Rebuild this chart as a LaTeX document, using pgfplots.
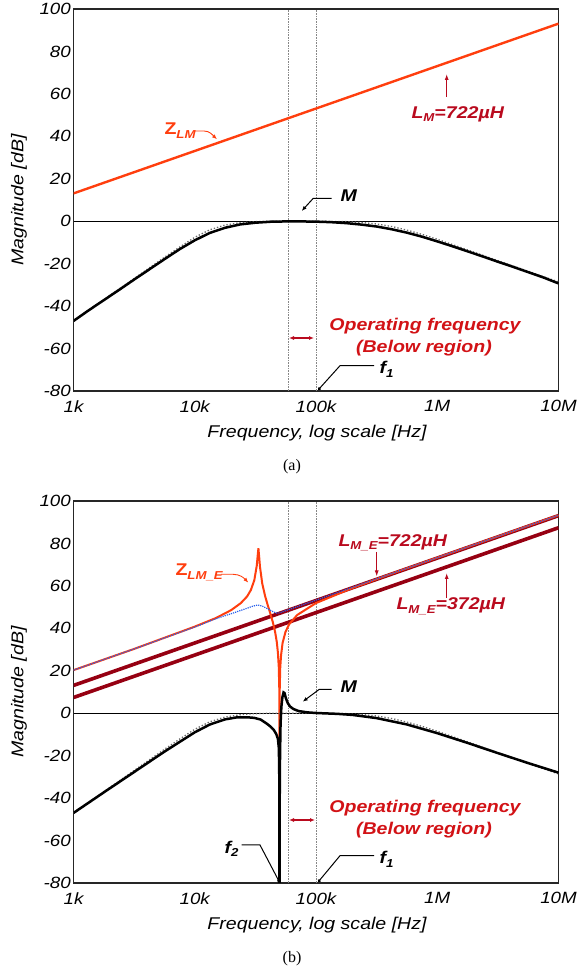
\documentclass[border=0pt]{standalone}
\usepackage{fontspec}
\setmainfont{Liberation Sans}[FakeStretch=1.15]
\newfontfamily\capfont{Liberation Serif}
\usepackage{pgfplots}
\usepackage{pgfplotstable}
\pgfplotsset{compat=1.18}
\usetikzlibrary{arrows.meta}

\definecolor{zorange}{RGB}{255,62,14}
\definecolor{lmred}{RGB}{150,0,18}
\definecolor{lmtext}{RGB}{185,10,30}
\definecolor{optext}{RGB}{210,18,22}
\definecolor{idealgray}{RGB}{105,105,105}
\definecolor{estblue}{RGB}{40,95,235}

\newcommand{\lsub}[1]{\raisebox{-0.35ex}{\fontsize{11.5}{12}\selectfont #1}}
\newcommand{\annfont}{\fontsize{17}{20}\selectfont\bfseries\itshape}
\newcommand{\labfont}{\fontsize{17}{20}\selectfont\itshape}
\newcommand{\tickfont}{\fontsize{16.3}{19}\selectfont\itshape}

\pgfplotsset{
  every axis/.append style={
    scale only axis, width=485pt, height=382pt,
    xmin=1000, xmax=10000000, ymin=-80, ymax=100,
    xtick={1000,10000,100000,1000000,10000000},
    xticklabels={1k,10k,100k,1M,10M},
    ytick={-80,-60,-40,-20,0,20,40,60,80,100},
    yticklabels={-80,-60,-40,-20,0,20,40,60,80,100},
    major tick length=0pt, minor tick length=0pt,
    axis line style={line width=1.3pt, draw=black!85},
    tick label style={font=\tickfont},
    yticklabel style={inner sep=0pt, xshift=-2.5pt},
    xticklabel style={inner sep=0pt, yshift=-9pt},
  },
}
\tikzset{markerline/.style={draw=idealgray!80, line width=0.6pt, densely dotted}}

% ideal gain (dotted reference)
\pgfplotstableread{
f        g
1000     -47.0
1778     -37.0
3162     -27.0
5623     -17.0
7499     -12.2
10000    -7.6
13335    -4.0
17783    -1.8
23714    -0.7
31623    -0.2
42170    0.0
56234    0.0
100000   0.0
177828   -0.2
237137   -0.6
316228   -1.3
421697   -2.5
562341   -4.2
749894   -6.2
1000000  -8.5
1778279  -13.5
3162278  -18.6
5623413  -23.6
10000000 -28.6
}\idealgain

% gain M, case (a)
\pgfplotstableread{
f        g
1000     -47.0
1333     -42.0
1778     -37.2
2371     -32.4
3162     -27.5
4217     -22.7
5623     -17.9
7499     -13.2
10000    -9.0
13335    -5.5
17783    -3.1
23714    -1.5
31623    -0.7
42170    -0.25
56234    -0.1
74989    -0.1
100000   -0.2
133352   -0.45
177828   -0.9
237137   -1.6
316228   -2.5
421697   -3.8
562341   -5.4
749894   -7.3
1000000  -9.5
1333521  -11.8
1778279  -14.2
2371374  -16.6
3162278  -19.1
4216965  -21.5
5623413  -24.0
7498942  -26.5
10000000 -29.3
}\gainA

% gain M, case (b)
\pgfplotstableread{
f        g
1000     -47.0
1778     -37.3
3162     -27.7
5623     -18.1
10000    -9.0
13335    -5.3
17783    -2.9
22000    -2.0
27000    -1.9
31000    -2.2
35000    -3.0
39000    -4.8
42000    -6.2
45000    -8.0
47000    -9.8
48500    -12.0
49300    -16.0
49700    -24.0
49900    -40.0
50000    -85.0
50200    -40.0
50500    -20.0
51000    -5.0
51800    3.0
52800    7.5
54000    9.8
55000    9.5
56500    7.0
58500    4.8
61000    3.2
65000    2.0
72000    1.0
85000    0.4
100000   0.1
150000   -0.3
200000   -0.8
316228   -2.3
562341   -5.3
1000000  -9.4
1778279  -14.0
3162278  -18.8
5623413  -23.5
10000000 -28.0
}\gainB

% magnetizing branch impedance Z_LM_E
\pgfplotstableread{
f        z
1000     20.3
3162     30.3
10000    40.8
15000    44.9
20000    48.6
24000    51.9
27000    55.0
29000    58.0
31000    62.7
32500    69.7
33000    74.0
33500    77.7
34000    73.6
34500    69.1
36000    61.2
38000    55.3
40000    50.9
42000    47.0
44000    43.0
46000    38.3
47500    33.5
48500    28.6
49300    21.8
49800    11.3
50000    -15.0
50200    11.0
50700    21.3
51500    27.3
53000    33.1
56000    38.3
60000    41.9
70000    46.3
100000   51.9
200000   59.0
400000   65.3
1000000  73.3
10000000 93.3
}\zlme

% smoothed estimate of Z_LM_E
\pgfplotstableread{
f        z
1000     20.3
3162     30.3
10000    40.6
14000    43.9
17000    45.6
20000    46.9
25000    48.8
30000    50.4
33000    51.0
36000    50.5
40000    49.2
44000    47.9
47000    47.2
50000    47.3
100000   53.3
1000000  73.3
10000000 93.3
}\zest

\begin{document}
\begin{tikzpicture}
\useasboundingbox (0pt,0pt) rectangle (584pt,974pt);

% ---------- (a) ----------
\begin{semilogxaxis}[at={(73.5pt,583pt)}, anchor=south west]
  \addplot[markerline] coordinates {(59000,-80) (59000,100)};
  \addplot[markerline] coordinates {(100000,-80) (100000,100)};
  \addplot[black, line width=1.3pt] coordinates {(1000,0) (10000000,0)};
  \addplot[zorange, line width=2.4pt] coordinates {(1000,13.1) (10000000,93.1)};
  \addplot[idealgray, line width=1.3pt, dotted] table[x=f,y=g] {\idealgain};
  \addplot[black, line width=2.5pt] table[x=f,y=g] {\gainA};
\end{semilogxaxis}

% ---------- (b) ----------
\begin{semilogxaxis}[at={(73.5pt,91pt)}, anchor=south west]
  \addplot[markerline] coordinates {(59000,-80) (59000,100)};
  \addplot[markerline] coordinates {(100000,-80) (100000,100)};
  \addplot[black, line width=1.3pt] coordinates {(1000,0) (10000000,0)};
  \addplot[lmred, line width=3.6pt] coordinates {(1000,13.1) (10000000,93.1)};
  \addplot[lmred, line width=3.6pt] coordinates {(1000,7.4) (10000000,87.4)};
  \addplot[zorange, line width=2.0pt] table[x=f,y=z] {\zlme};
  \addplot[estblue, line width=1.2pt, densely dotted] table[x=f,y=z] {\zest};
  \addplot[idealgray, line width=1.3pt, dotted] table[x=f,y=g] {\idealgain};
  \addplot[black, line width=2.5pt] table[x=f,y=g] {\gainB};
\end{semilogxaxis}

% axis titles and captions
\node[rotate=90, font=\labfont] at (19pt,774pt) {Magnitude [dB]};
\node[rotate=90, font=\labfont] at (19pt,282pt) {Magnitude [dB]};
\node[anchor=base, font=\labfont] at (317pt,536.5pt) {Frequency, log scale [Hz]};
\node[anchor=base, font=\labfont] at (317pt,44.5pt) {Frequency, log scale [Hz]};
\node[anchor=base, font=\capfont\fontsize{16}{18}\selectfont] at (292pt,503pt) {(a)};
\node[anchor=base, font=\capfont\fontsize{16}{18}\selectfont] at (292pt,11pt) {(b)};

% annotations, plot (a)
\node[anchor=base west, text=zorange, font=\annfont] at (161pt,839pt) {\upshape Z\lsub{\itshape LM}};
\draw[zorange, line width=0.9pt, -{Latex[length=5pt,width=4pt]}]
  (194pt,843pt) -- (204pt,843pt) .. controls (210pt,843pt) and (213pt,838.5pt) .. (217pt,834.7pt);
\node[anchor=base west, text=lmtext, font=\annfont] at (408pt,855.7pt) {L\lsub{M}=722µH};
\draw[lmtext, line width=1pt, -{Latex[length=6pt,width=4pt]}] (446.7pt,877pt) -- (446.7pt,900pt);
\node[anchor=base west, font=\annfont] at (337pt,772pt) {M};
\draw[black, line width=1pt, -{Latex[length=5pt,width=4pt]}]
  (331.7pt,775.7pt) -- (313.3pt,775.7pt) -- (301.7pt,763pt);
\draw[lmtext, line width=1.1pt, {Latex[length=5pt,width=4pt]}-{Latex[length=5pt,width=4pt]}]
  (289pt,636pt) -- (314pt,636pt);
\node[anchor=base, text=optext, font=\annfont] at (425pt,643.3pt) {Operating frequency};
\node[anchor=base, text=optext, font=\annfont] at (424pt,621.7pt) {(Below region)};
\node[anchor=base west, font=\annfont] at (376pt,600pt) {f\lsub{1}};
\draw[black, line width=1pt, -{Circle[length=3pt]}]
  (374pt,608.3pt) -- (340pt,608.3pt) -- (318.3pt,584.2pt);

% annotations, plot (b)
\node[anchor=base west, text=zorange, font=\annfont] at (172pt,398pt) {\upshape Z\lsub{\itshape LM\_E}};
\draw[zorange, line width=0.9pt, -{Latex[length=5pt,width=4pt]}]
  (221pt,399.7pt) -- (233pt,399.7pt) .. controls (240pt,399.7pt) and (244pt,396pt) .. (248.3pt,391.3pt);
\node[anchor=base west, text=lmtext, font=\annfont] at (335pt,427.3pt) {L\lsub{M\_E}=722µH};
\draw[lmtext, line width=1pt, -{Latex[length=6pt,width=4pt]}] (376.7pt,422pt) -- (376.7pt,397.5pt);
\node[anchor=base west, text=lmtext, font=\annfont] at (393pt,364pt) {L\lsub{M\_E}=372µH};
\draw[lmtext, line width=1pt, -{Latex[length=6pt,width=4pt]}] (446.7pt,376pt) -- (446.7pt,401pt);
\node[anchor=base west, font=\annfont] at (337pt,281pt) {M};
\draw[black, line width=1pt, -{Latex[length=5pt,width=4pt]}]
  (331.7pt,284.7pt) -- (319.3pt,284.7pt) -- (302.7pt,272.3pt);
\draw[lmtext, line width=1.1pt, {Latex[length=5pt,width=4pt]}-{Latex[length=5pt,width=4pt]}]
  (289pt,154pt) -- (315pt,154pt);
\node[anchor=base, text=optext, font=\annfont] at (425pt,161.3pt) {Operating frequency};
\node[anchor=base, text=optext, font=\annfont] at (424pt,139.7pt) {(Below region)};
\node[anchor=base west, font=\annfont] at (376pt,110pt) {f\lsub{1}};
\draw[black, line width=1pt, -{Circle[length=3pt]}]
  (374pt,118.3pt) -- (340pt,118.3pt) -- (318.3pt,92.2pt);
\node[anchor=base west, font=\annfont] at (221pt,120.7pt) {f\lsub{2}};
\draw[black, line width=1pt, -{Circle[length=3pt]}]
  (241.7pt,129pt) -- (260pt,129pt) -- (279.3pt,92.2pt);
\end{tikzpicture}
\end{document}
